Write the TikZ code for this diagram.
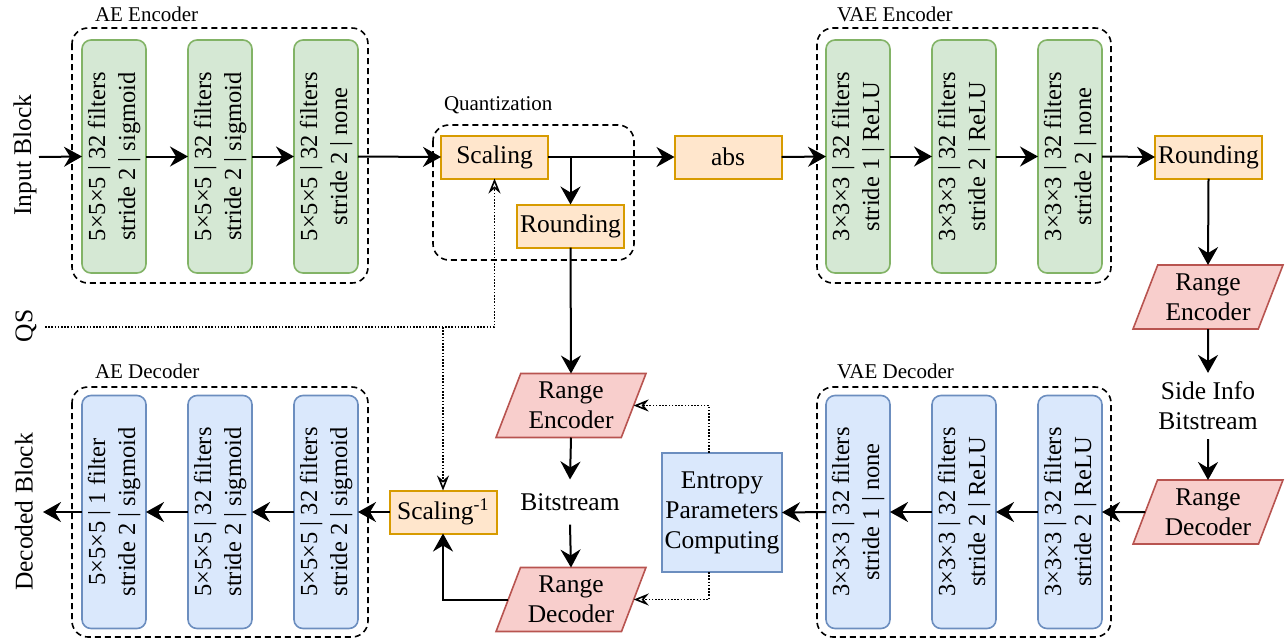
\documentclass[tikz,border=0pt]{standalone}
\usepackage{fontspec}
\setmainfont{Liberation Serif}
\usepackage{graphicx}
\usetikzlibrary{arrows.meta,shapes.geometric}
\definecolor{gfill}{HTML}{D5E8D4}\definecolor{gline}{HTML}{82B366}
\definecolor{bfill}{HTML}{DAE8FC}\definecolor{bline}{HTML}{6C8EBF}
\definecolor{ofill}{HTML}{FFE6CC}\definecolor{oline}{HTML}{D79B00}
\definecolor{rfill}{HTML}{F8CECC}\definecolor{rline}{HTML}{B85450}
\newcommand\vtxt[2]{\rotatebox{90}{\fontsize{24.5}{30}\selectfont\begin{tabular}{@{}c@{}}#1\\#2\end{tabular}}}
\tikzset{
 every node/.style={font=\fontsize{25.5}{30}\selectfont, inner sep=0pt, outer sep=0pt},
 conv/.style={rounded corners=9pt, line width=1.6pt, minimum width=64pt, minimum height=233pt, align=center},
 encl/.style={conv, fill=gfill, draw=gline},
 decl/.style={conv, fill=bfill, draw=bline},
 obox/.style={draw=oline, fill=ofill, line width=2pt, minimum width=107pt, minimum height=43pt},
 rpar/.style={draw=rline, fill=rfill, line width=1.6pt, trapezium, trapezium stretches=true,
   trapezium left angle=66, trapezium right angle=114, minimum width=150pt, minimum height=64pt, align=center},
 bbox/.style={draw=bline, fill=bfill, line width=2pt, minimum width=120pt, minimum height=119pt, align=center},
 grp/.style={draw, dash pattern=on 6pt off 4pt, line width=1.6pt, rounded corners=16pt},
 glabel/.style={font=\fontsize{21}{25}\selectfont, anchor=west},
 plain/.style={align=center, inner ysep=14pt},
 arr/.style={line width=2pt, -{Stealth[length=18pt,width=20pt,inset=6pt]}},
 dotarr/.style={line width=1.6pt, dash pattern=on 1.6pt off 1.6pt, -{Stealth[open,length=15pt,width=12pt,inset=5pt]}},
}
\begin{document}
\begin{tikzpicture}[x=1pt,y=-1pt]
\useasboundingbox (0,0) rectangle (1285,641);
% group frames
\draw[grp] (72,28) rectangle (368,283);
\draw[grp] (817,28) rectangle (1111,283);
\draw[grp] (433,125) rectangle (634,260);
\draw[grp] (72,387) rectangle (368,637);
\draw[grp] (817,387) rectangle (1111,637);
\node[glabel] (lae) at (95,14) {AE Encoder};
\node[glabel] (lvae) at (837,14) {VAE Encoder};
\node[glabel] (lq) at (444,105) {Quantization};
\node[glabel] (lad) at (95,371) {AE Decoder};
\node[glabel] (lvd) at (837,371) {VAE Decoder};
% side labels
\node[rotate=90] (inb) at (25,155) {Input Block};
\node[rotate=90] (qsl) at (26,326) {QS};
\node[rotate=90] (decb) at (24,512) {Decoded Block};
% AE encoder
\node[encl] (e1) at (114,156.5) {\vtxt{5×5×5 | 32 filters}{stride 2 | sigmoid}};
\node[encl] (e2) at (220,156.5) {\vtxt{5×5×5 | 32 filters}{stride 2 | sigmoid}};
\node[encl] (e3) at (326,156.5) {\vtxt{5×5×5 | 32 filters}{stride 2 | none}};
% quantization
\node[obox] (sc) at (494.5,157) {Scaling};
\node[obox] (rd1) at (570.5,226) {Rounding};
\node[obox] (ab) at (728,157) {abs};
% VAE encoder
\node[encl] (v1) at (858,156.5) {\vtxt{3×3×3 | 32 filters}{stride 1 | ReLU}};
\node[encl] (v2) at (964,156.5) {\vtxt{3×3×3 | 32 filters}{stride 2 | ReLU}};
\node[encl] (v3) at (1070,156.5) {\vtxt{3×3×3 | 32 filters}{stride 2 | none}};
\node[obox] (rr) at (1208.5,157) {Rounding};
\node[rpar] (reR) at (1208,297) {Range\\Encoder};
\node[align=center, inner ysep=9pt] (si) at (1208,406) {Side Info\\Bitstream};
\node[rpar] (rdR) at (1208,512) {Range\\Decoder};
% VAE decoder
\node[decl] (d3) at (1070,512) {\vtxt{3×3×3 | 32 filters}{stride 2 | ReLU}};
\node[decl] (d2) at (964,512) {\vtxt{3×3×3 | 32 filters}{stride 2 | ReLU}};
\node[decl] (d1) at (858,512) {\vtxt{3×3×3 | 32 filters}{stride 1 | none}};
% middle
\node[bbox] (ent) at (722,512.5) {Entropy\\Parameters\\Computing};
\node[rpar] (reM) at (571,405.5) {Range\\Encoder};
\node[plain] (bs) at (570,502) {Bitstream};
\node[rpar] (rdM) at (571,599.5) {Range\\Decoder};
\node[obox] (si1) at (443,512) {Scaling\textsuperscript{-1}};
% AE decoder
\node[decl] (a3) at (326,512) {\vtxt{5×5×5 | 32 filters}{stride 2 | sigmoid}};
\node[decl] (a2) at (220,512) {\vtxt{5×5×5 | 32 filters}{stride 2 | sigmoid}};
\node[decl] (a1) at (114,512) {\vtxt{5×5×5 | 1 filter}{stride 2 | sigmoid}};
% coordinates
\coordinate (cin) at (39,157);
\coordinate (cout) at (43,512);
\coordinate (cqs) at (45,327);
% encoder path
\draw[arr] (cin) -- (e1.west);
\draw[arr] (e1) -- (e2);
\draw[arr] (e2) -- (e3);
\draw[arr] (e3.east) -- (sc.west);
\draw[arr] (sc.east) -- (ab.west);
\draw[arr] (rd1.north |- sc.east) -- (rd1.north);
\draw[arr] (ab.east) -- (v1.west);
\draw[arr] (v1) -- (v2);
\draw[arr] (v2) -- (v3);
\draw[arr] (v3.east) -- (rr.west);
\draw[arr] (rr.south) -- (reR.north);
\draw[arr] (reR.south) -- (si.north);
\draw[arr] (si.south) -- (rdR.north);
\draw[arr] (rdR.west) -- (d3.east);
\draw[arr] (d3) -- (d2);
\draw[arr] (d2) -- (d1);
\draw[arr] (d1.west) -- (ent.east);
% middle
\draw[arr] (rd1.south) -- (reM.north);
\draw[arr] (reM.south) -- (bs.north);
\draw[arr] (bs.south) -- (rdM.north);
\draw[arr] (rdM.west) -| (si1.south);
\draw[dotarr] ([xshift=-13pt]ent.north) |- (reM.east);
\draw[dotarr] ([xshift=-13pt]ent.south) |- (rdM.east);
% QS
\draw[dotarr] (cqs) -| (sc.south);
\draw[dotarr] (si1.north |- cqs) -- (si1.north);
% decoder
\draw[arr] (si1.west) -- (a3.east);
\draw[arr] (a3) -- (a2);
\draw[arr] (a2) -- (a1);
\draw[arr] (a1.west) -- (cout);
\end{tikzpicture}
\end{document}
